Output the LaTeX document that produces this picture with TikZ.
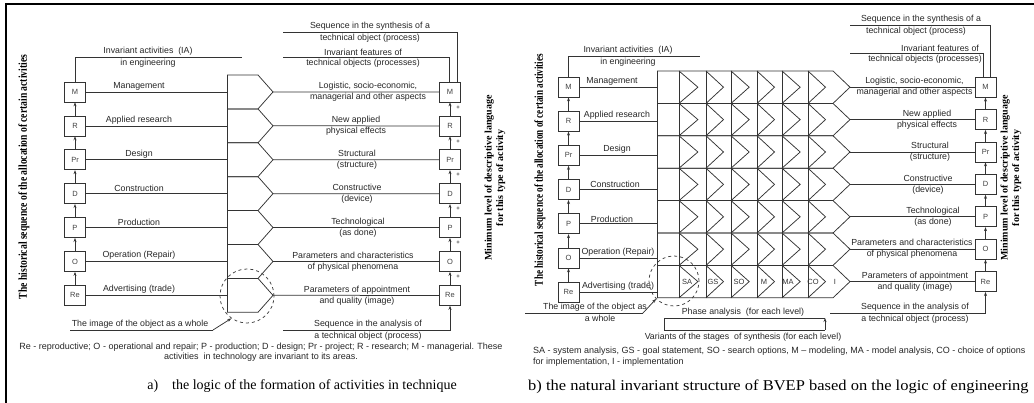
\documentclass[tikz,border=0pt]{standalone}
\usepackage{fontspec}
\usepackage{graphicx}
\setmainfont{Liberation Serif}
\setsansfont{Liberation Sans}
\usetikzlibrary{arrows.meta,calc}
\begin{document}
\begin{tikzpicture}[x=1pt,y=-1pt,
  ln/.style={draw=black!80, line width=0.75pt},
  arr/.style={ln, -{Stealth[length=4pt,width=3pt]}},
  bx/.style={draw=black!80, line width=0.75pt, minimum width=21pt, minimum height=20pt, inner sep=0pt, font=\sffamily\fontsize{7.5}{7.5}\selectfont, text=black!75},
  lbl/.style={font=\sffamily\fontsize{8.8}{8.8}\selectfont, text=black!85, inner sep=0pt},
  two/.style={lbl, align=center, font=\sffamily\fontsize{8.8}{11}\selectfont},
  cell/.style={font=\sffamily\fontsize{7.5}{7.5}\selectfont, text=black!80, inner sep=0pt},
  vtxt/.style={rotate=90, font=\fontsize{12}{12}\selectfont\bfseries, inner sep=0pt, align=center},
  vtxtb/.style={rotate=90, font=\fontsize{10}{11.5}\selectfont\bfseries, inner sep=0pt, align=center},
  captxt/.style={font=\fontsize{14}{14}\selectfont, inner sep=0pt},
  leg/.style={font=\sffamily\fontsize{9}{10}\selectfont, text=black!85, inner sep=0pt},
  plus/.style={font=\sffamily\fontsize{6}{6}\selectfont, inner sep=0pt},
  dcirc/.style={draw=black!75, dashed, line width=0.75pt, circle, inner sep=0pt},
]
\useasboundingbox (0,0) rectangle (1034,403);
\draw[line width=1.5pt] (6,403) -- (6,4) -- (1034,4);

% ================= panel a =================
\foreach \t [count=\i from 0] in {M,R,Pr,D,P,O,Re} {
  \node[bx] (aL\i) at (75,{92+33.9*\i}) {\t};
  \node[bx] (aR\i) at (450,{92+33.9*\i}) {\t};
}
\foreach \i in {1,...,6} {
  \pgfmathtruncatemacro\j{\i-1}
  \draw[arr] (aL\i) -- (aL\j);
  \draw[arr] (aR\i) -- (aR\j);
  \node[plus] at ([xshift=8pt,yshift=-5pt]aR\j.south) {+};
}
\coordinate (aBT) at (227,75);
\coordinate (aBB) at (227,{75+33.9*7});
\draw[ln] (aBT) -- (aBB);
\foreach \i in {0,...,6} {
  \pgfmathsetmacro\yt{75+33.9*\i}
  \pgfmathsetmacro\ym{\yt+16.95}
  \pgfmathsetmacro\yb{\yt+33.9}
  \draw[ln] (227,\yt) -- (258,\yt) -- (273,\ym) -- (258,\yb) -- (227,\yb);
  \coordinate (aP\i) at (273,\ym);
  \draw[ln] (aL\i.east) -- (aL\i.east -| aBT);
  \draw[ln] (aP\i) -- (aR\i.west);
}
\foreach \lab [count=\i from 0] in {Management,Applied research,Design,Construction,Production,Operation (Repair),Advertising (trade)}
  \node[lbl,anchor=south] at (139,{92+33.9*\i-1.5}) {\lab};

\node[two] at (368,92) {Logistic, socio-economic,\\managerial and other aspects};
\node[two] at (356,125.9) {New applied\\physical effects};
\node[two] at (357,159.8) {Structural\\(structure)};
\node[two] at (357,193.7) {Constructive\\(device)};
\node[two] at (358,227.6) {Technological\\(as done)};
\node[two] at (353,261.5) {Parameters and characteristics\\of physical phenomena};
\node[two] at (357,295.4) {Parameters of appointment\\and quality (image)};

\coordinate (aS) at (283,32);
\coordinate (aI) at (283,57);
\draw[ln] ([xshift=7pt]aR0.north) |- (aS);
\draw[ln] ([xshift=-1pt]aR0.north) |- (aI);
\node[lbl,anchor=south] at (370,30.5) {Sequence in the synthesis of a};
\node[lbl,anchor=north] at (370,34) {technical object (process)};
\node[lbl,anchor=south] at (363,55.5) {Invariant features of};
\node[lbl,anchor=north] at (363,59) {technical objects (processes)};

\coordinate (aIA) at (242,57);
\draw[ln] (aL0.north) |- (aIA);
\node[lbl,anchor=south] at (148,55.5) {Invariant activities\ \ (IA)};
\node[lbl,anchor=north] at (148,59) {in engineering};

\coordinate (aAn) at (283,330);
\draw[arr] (aAn) -| (aR6.south);
\node[lbl,anchor=south] at (368,328.5) {Sequence in the analysis of};
\node[lbl,anchor=north] at (368,332) {a technical object (process)};

\node[dcirc, minimum size=54pt] (aC) at (247,296) {};
\coordinate (aW1) at (70,330);
\coordinate (aW2) at (213,330);
\draw[ln] (aW1) -- (aW2);
\draw[arr] (aW2) -- (aC.235);
\node[lbl,anchor=south] at (140,328.5) {The image of the object as a whole};

\node[leg, align=center] (aLeg) at (261,352) {Re - reproductive; O - operational and repair; P - production; D - design; Pr - project; R - research; M - managerial. These\\activities\ \ in technology are invariant to its areas.};
\node[captxt, anchor=east] (aCap) at (457,386) {a)\quad the logic of the formation of activities in technique};

\node[vtxt] (aV1) at (24,177) {\scalebox{0.8}[1]{The historical sequence of the allocation of certain activities}};
\node[vtxtb] (aV2) at (495,178) {Minimum level of descriptive language\\for this type of activity};

% ================= panel b =================
\foreach \t [count=\i from 0] in {M,R,Pr,D,P,O,Re} {
  \node[bx] (bL\i) at (568.5,{87+34.2*\i}) {\t};
  \node[bx] (bR\i) at (985.5,{87.2+32.4*\i}) {\t};
}
\foreach \i in {1,...,6} {
  \pgfmathtruncatemacro\j{\i-1}
  \draw[arr] (bL\i) -- (bL\j);
  \draw[arr] (bR\i) -- (bR\j);
}
\coordinate (bGT) at (657,71);
% grid
\foreach \x in {657,679,706,731,757,782,808}
  \draw[ln] (\x,71) -- (\x,{71+32.4*7});
\foreach \i in {0,...,6} {
  \pgfmathsetmacro\yt{71+32.4*\i}
  \pgfmathsetmacro\ym{\yt+16.2}
  \pgfmathsetmacro\yb{\yt+32.4}
  \draw[ln] (657,\yt) -- (833,\yt) -- (850,\ym) -- (833,\yb) -- (657,\yb);
  \foreach \xa/\xb in {679/706,706/731,731/757,757/782,782/808,808/833}
    \draw[ln] (\xa,\yt) -- ({\xa+0.7*(\xb-\xa)},\ym) -- (\xa,\yb);
  \coordinate (bP\i) at (850,\ym);
  \draw[ln] (bP\i) -- (bR\i.west);
  \draw[ln] (bL\i.east) -- (bL\i.east -| bGT);
}
\foreach \lab/\x [count=\i from 0] in {Management/612,Applied research/617,Design/617,Construction/615,Production/612,Operation (Repair)/618,Advertising (trade)/618}
  \node[lbl,anchor=south] at (\x,{87+34.2*\i-1.5}) {\lab};
\foreach \t/\x in {SA/687,GS/713,SO/739,M/764,MA/788,CO/813,I/835}
  \node[cell] at (\x,281.6) {\t};

\node[two] at (914.5,87.2) {Logistic, socio-economic,\\managerial and other aspects};
\node[two] at (927,119.6) {New applied\\physical effects};
\node[two] at (930,152) {Structural\\(structure)};
\node[two] at (928,184.4) {Constructive\\(device)};
\node[two] at (933,216.8) {Technological\\(as done)};
\node[two] at (912,249.2) {Parameters and characteristics\\of physical phenomena};
\node[two] at (915,281.6) {Parameters of appointment\\and quality (image)};

\coordinate (bS) at (850,25);
\coordinate (bI) at (850,53);
\draw[ln] ([xshift=4.5pt]bR0.north) |- (bS);
\draw[ln] ([xshift=-2.5pt]bR0.north) |- (bI);
\node[lbl,anchor=south] at (921,23.5) {Sequence in the synthesis of a};
\node[lbl,anchor=north] at (916,27) {technical object (process)};
\node[lbl,anchor=south] at (940,51.5) {Invariant features of};
\node[lbl,anchor=north] at (925,55) {technical objects (processes)};

\coordinate (bIA) at (700,56);
\draw[ln] (bL0.north) |- (bIA);
\node[lbl,anchor=south] at (628,54.5) {Invariant activities\ \ (IA)};
\node[lbl,anchor=north] at (628,58) {in engineering};

\coordinate (bAn) at (830,313);
\draw[arr] (bAn) -| (bR6.south);
\node[lbl,anchor=south] at (915,311.5) {Sequence in the analysis of};
\node[lbl,anchor=north] at (915,315) {a technical object (process)};

\coordinate (bPh1) at (664,318);
\coordinate (bPh2) at (825,318);
\coordinate (bVa1) at (664,330);
\coordinate (bVa2) at (825,330);
\draw[ln] (bPh1) -- (bPh2);
\draw[ln] (bPh1) -- (bVa1) -- (bVa2);
\draw[arr] (bVa2) -- (bPh2);
\node[lbl,anchor=south] at (743,316.5) {Phase analysis\ \ (for each level)};
\node[lbl,anchor=north] at (743,332.5) {Variants of the stages\ \ of synthesis (for each level)};

\node[dcirc, minimum size=50pt] (bC) at (674,281) {};
\coordinate (bW1) at (525,313);
\coordinate (bW2) at (643,313);
\draw[ln] (bW1) -- (bW2);
\draw[arr] (bW2) -- (bC.225);
\node[lbl,anchor=south] at (595,311.5) {The image of the object as};
\node[lbl,anchor=north] at (600,315) {a whole};

\node[leg, align=left, anchor=north west, font=\sffamily\fontsize{9}{10.5}\selectfont] (bLeg) at (533,347) {SA - system analysis, GS - goal statement, SO - search options, M -- modeling, MA - model analysis, CO - choice of options\\for implementation, I - implementation};
\node[captxt, anchor=west, font=\fontsize{15}{15}\selectfont] (bCap) at (528,387) {\scalebox{1.1}[1]{b) the natural invariant structure of BVEP based on the logic of engineering}};

\node[vtxt] (bV1) at (540,170) {\scalebox{0.76}[1]{The historical sequence of the allocation of certain activities}};
\node[vtxtb] (bV2) at (1011,178) {Minimum level of descriptive language\\for this type of activity};
\end{tikzpicture}
\end{document}
